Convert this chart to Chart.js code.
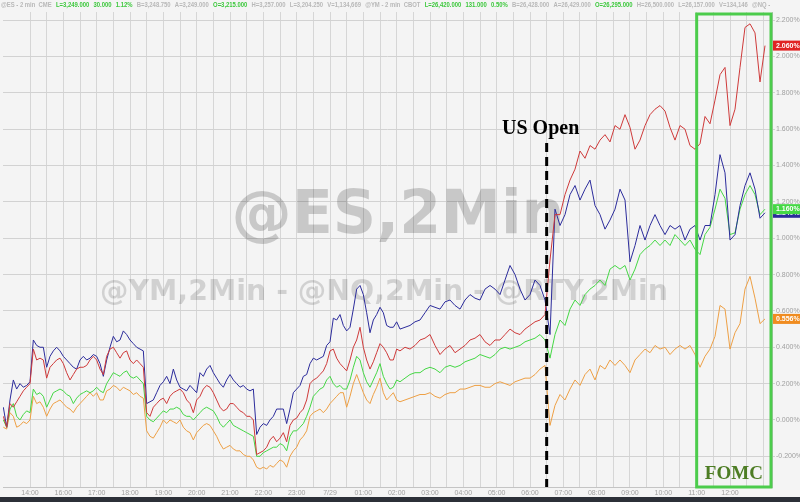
<!DOCTYPE html>
<html>
<head>
<meta charset="utf-8">
<script src="https://cdn.jsdelivr.net/npm/chart.js@4.4.1/dist/chart.umd.min.js"></script>
<style>
    html, body { margin: 0; padding: 0; background: #f4f4f4; }
    #wrap { position: relative; width: 800px; height: 502px; overflow: hidden; }
    #chart { position: absolute; left: 0; top: 0; }
    #bar { position: absolute; left: 0; top: 497px; width: 800px; height: 5px; background: #2c3038; }
</style>
</head>
<body>
<div id="wrap">
    <canvas id="chart" width="800" height="497"></canvas>
    <div id="bar"></div>
</div>
<script>
// hour labels on the x axis, one per hour starting at the 14:00 gridline
const hourLabels = ['14:00', '16:00', '17:00', '18:00', '19:00', '20:00', '21:00', '22:00', '23:00', '7/29',
    '01:00', '02:00', '03:00', '04:00', '05:00', '06:00', '07:00', '08:00', '09:00', '10:00', '11:00', '12:00'];

// percent gridlines on the right axis
const yTicks = [-0.2, 0, 0.2, 0.4, 0.6, 0.8, 1.0, 1.2, 1.4, 1.6, 1.8, 2.0, 2.2];

// event markers (hours from the 14:00 gridline)
const usOpenAt = 15.5;
const fomcFrom = 20.0;
const fomcTo = 22.23;

// sample times: overnight part sampled finer, session part coarser
const leftTimes = [];
for (let i = 0; i < 120; i++) leftTimes.push(+(-0.8 + i * 0.1).toFixed(2));
const rightTimes = [];
for (let j = 0; j < 73; j++) rightTimes.push(+(11.25 + j * 0.15).toFixed(2));
const times = leftTimes.concat(rightTimes);

// % change
const nqPct = [
    0.02, -0.04, 0.09, 0.07, 0.10, 0.13, 0.16, 0.18, 0.20, 0.39,
    0.33, 0.34, 0.33, 0.23, 0.29, 0.31, 0.33, 0.34, 0.31, 0.26,
    0.22, 0.25, 0.28, 0.29, 0.29, 0.30, 0.33, 0.35, 0.33, 0.28,
    0.25, 0.35, 0.39, 0.40, 0.37, 0.34, 0.37, 0.38, 0.33, 0.31,
    0.33, 0.31, 0.29, 0.04, 0.02, 0.07, 0.09, 0.11, 0.12, 0.09,
    0.13, 0.15, 0.16, 0.17, 0.15, 0.11, 0.09, 0.04, 0.11, 0.13,
    0.17, 0.19, 0.18, 0.15, 0.11, 0.07, 0.05, 0.06, 0.09, 0.09,
    0.07, 0.05, 0.04, 0.02, 0.02, 0.00, -0.19, -0.18, -0.17, -0.15,
    -0.11, -0.09, -0.12, -0.10, -0.07, -0.12, -0.03, 0.00, 0.01, 0.04,
    0.06, 0.11, 0.20, 0.22, 0.23, 0.25, 0.27, 0.31, 0.38, 0.39,
    0.34, 0.31, 0.29, 0.27, 0.33, 0.40, 0.44, 0.51, 0.40, 0.33,
    0.28, 0.32, 0.37, 0.42, 0.40, 0.37, 0.33, 0.33, 0.39, 0.38,
    0.40, 0.39, 0.41, 0.44, 0.45, 0.47, 0.41, 0.36, 0.39, 0.41,
    0.37, 0.39, 0.41, 0.44, 0.45, 0.47, 0.43, 0.41, 0.44, 0.44,
    0.47, 0.50, 0.48, 0.47, 0.50, 0.52, 0.54, 0.55, 0.58, 0.88,
    1.13, 1.13, 1.24, 1.32, 1.38, 1.48, 1.44, 1.51, 1.49, 1.54,
    1.57, 1.53, 1.62, 1.60, 1.68, 1.61, 1.49, 1.54, 1.62, 1.68,
    1.71, 1.73, 1.70, 1.61, 1.54, 1.62, 1.60, 1.51, 1.49, 1.52,
    1.67, 1.63, 1.76, 1.90, 1.94, 1.62, 1.71, 1.94, 2.16, 2.18,
    2.13, 1.86, 2.06
];

const rtyPct = [
    0.07, -0.04, 0.11, 0.22, 0.17, 0.20, 0.18, 0.19, 0.21, 0.44,
    0.41, 0.40, 0.40, 0.29, 0.35, 0.38, 0.40, 0.38, 0.35, 0.33,
    0.31, 0.29, 0.28, 0.33, 0.35, 0.33, 0.34, 0.36, 0.35, 0.31,
    0.24, 0.33, 0.40, 0.46, 0.43, 0.44, 0.49, 0.47, 0.44, 0.42,
    0.40, 0.39, 0.38, 0.09, 0.10, 0.11, 0.15, 0.19, 0.21, 0.24,
    0.20, 0.28, 0.22, 0.18, 0.17, 0.16, 0.19, 0.17, 0.15, 0.26,
    0.24, 0.28, 0.30, 0.26, 0.23, 0.20, 0.18, 0.22, 0.25, 0.22,
    0.20, 0.18, 0.19, 0.17, 0.16, 0.17, -0.08, -0.04, -0.02, -0.03,
    0.00, 0.02, 0.06, 0.06, 0.06, -0.02, 0.06, 0.15, 0.17, 0.19,
    0.24, 0.25, 0.31, 0.34, 0.33, 0.34, 0.35, 0.41, 0.43, 0.56,
    0.55, 0.58, 0.52, 0.49, 0.51, 0.61, 0.72, 0.74, 0.69, 0.59,
    0.48, 0.55, 0.58, 0.62, 0.59, 0.52, 0.51, 0.51, 0.54, 0.50,
    0.51, 0.52, 0.54, 0.55, 0.59, 0.63, 0.62, 0.61, 0.65, 0.66,
    0.63, 0.61, 0.66, 0.69, 0.67, 0.66, 0.72, 0.74, 0.72, 0.69,
    0.77, 0.85, 0.80, 0.72, 0.66, 0.69, 0.77, 0.74, 0.66, 0.47,
    1.16, 1.07, 1.13, 1.24, 1.29, 1.21, 1.27, 1.32, 1.18, 1.13,
    1.05, 1.10, 1.16, 1.27, 1.21, 0.87, 0.96, 1.07, 0.99, 1.07,
    1.13, 1.07, 1.02, 1.07, 1.05, 1.07, 0.99, 1.05, 1.07, 0.99,
    1.07, 1.07, 1.24, 1.46, 1.36, 0.99, 1.02, 1.18, 1.29, 1.36,
    1.27, 1.11, 1.14
];

const esPct = [
    0.00, -0.04, 0.06, 0.09, 0.02, 0.00, 0.03, 0.05, 0.04, 0.17,
    0.14, 0.15, 0.13, 0.07, 0.11, 0.15, 0.16, 0.17, 0.16, 0.14,
    0.13, 0.09, 0.12, 0.14, 0.15, 0.16, 0.15, 0.16, 0.18, 0.16,
    0.15, 0.20, 0.23, 0.26, 0.25, 0.24, 0.26, 0.27, 0.24, 0.23,
    0.24, 0.22, 0.20, 0.02, 0.00, -0.01, 0.01, 0.03, 0.05, 0.04,
    0.06, 0.06, 0.07, 0.06, 0.03, 0.02, 0.02, 0.00, 0.02, 0.04,
    0.06, 0.07, 0.06, 0.05, 0.02, -0.02, -0.04, -0.02, 0.00, -0.03,
    -0.04, -0.05, -0.06, -0.07, -0.08, -0.09, -0.20, -0.20, -0.18, -0.17,
    -0.16, -0.15, -0.15, -0.13, -0.14, -0.17, -0.09, -0.06, -0.06, -0.04,
    -0.02, 0.02, 0.07, 0.13, 0.15, 0.17, 0.18, 0.22, 0.24, 0.20,
    0.18, 0.19, 0.17, 0.17, 0.22, 0.29, 0.35, 0.33, 0.26, 0.21,
    0.18, 0.22, 0.26, 0.31, 0.24, 0.20, 0.17, 0.18, 0.22, 0.21,
    0.23, 0.25, 0.26, 0.26, 0.28, 0.29, 0.28, 0.26, 0.29, 0.30,
    0.29, 0.30, 0.32, 0.33, 0.34, 0.36, 0.35, 0.34, 0.36, 0.39,
    0.40, 0.39, 0.40, 0.41, 0.43, 0.44, 0.45, 0.47, 0.44, 0.34,
    0.47, 0.55, 0.52, 0.61, 0.66, 0.63, 0.69, 0.72, 0.74, 0.77,
    0.74, 0.83, 0.85, 0.83, 0.85, 0.77, 0.83, 0.91, 0.94, 0.96,
    0.99, 0.96, 0.99, 0.96, 1.02, 0.99, 0.96, 0.99, 0.94, 0.91,
    1.02, 1.06, 1.16, 1.27, 1.22, 1.02, 1.03, 1.16, 1.24, 1.29,
    1.24, 1.13, 1.16
];

const ymPct = [
    -0.04, -0.05, 0.04, 0.02, -0.04, -0.03, -0.01, -0.02, 0.00, 0.13,
    0.09, 0.10, 0.07, 0.02, 0.06, 0.09, 0.10, 0.11, 0.09, 0.07,
    0.06, 0.04, 0.07, 0.09, 0.11, 0.13, 0.15, 0.13, 0.15, 0.11,
    0.11, 0.16, 0.17, 0.19, 0.18, 0.16, 0.18, 0.17, 0.16, 0.14,
    0.15, 0.13, 0.12, -0.06, -0.09, -0.10, -0.07, -0.04, 0.00, -0.02,
    0.00, -0.01, -0.02, 0.00, -0.04, -0.06, -0.07, -0.11, -0.07, -0.05,
    -0.03, -0.02, -0.03, -0.06, -0.09, -0.13, -0.16, -0.15, -0.14, -0.16,
    -0.17, -0.17, -0.19, -0.20, -0.20, -0.22, -0.26, -0.27, -0.26, -0.27,
    -0.25, -0.26, -0.24, -0.22, -0.23, -0.26, -0.20, -0.17, -0.15, -0.11,
    -0.09, -0.06, 0.02, 0.04, 0.05, 0.06, 0.04, 0.06, 0.09, 0.11,
    0.13, 0.15, 0.15, 0.07, 0.13, 0.20, 0.25, 0.20, 0.15, 0.11,
    0.09, 0.14, 0.18, 0.23, 0.15, 0.11, 0.13, 0.15, 0.11, 0.10,
    0.11, 0.12, 0.13, 0.14, 0.14, 0.15, 0.13, 0.12, 0.14, 0.15,
    0.15, 0.17, 0.17, 0.18, 0.19, 0.19, 0.18, 0.18, 0.20, 0.21,
    0.20, 0.19, 0.21, 0.22, 0.23, 0.23, 0.25, 0.28, 0.30, -0.03,
    0.08, 0.14, 0.11, 0.17, 0.22, 0.19, 0.25, 0.28, 0.22, 0.30,
    0.28, 0.33, 0.30, 0.33, 0.30, 0.26, 0.33, 0.36, 0.39, 0.37,
    0.41, 0.39, 0.40, 0.36, 0.39, 0.41, 0.39, 0.41, 0.36, 0.29,
    0.35, 0.39, 0.46, 0.63, 0.61, 0.39, 0.48, 0.53, 0.72, 0.79,
    0.67, 0.53, 0.556
];

// quote line across the top
const headerParts = [
    ['@ES - 2 min  CME', false], ['L=3,249.000', true], ['30.000', true], ['1.12%', true],
    ['B=3,248.750', false], ['A=3,249.000', false], ['O=3,215.000', true], ['H=3,257.000', false],
    ['L=3,204.250', false], ['V=1,134,669', false], ['@YM - 2 min  CBOT', false], ['L=26,420.000', true],
    ['131.000', true], ['0.50%', true], ['B=26,428.000', false], ['A=26,429.000', false],
    ['O=26,295.000', true], ['H=26,500.000', false], ['L=26,157.000', false], ['V=134,146', false],
    ['@NQ - 2 min', false]
];

const colors = { nq: '#cf3a3a', rty: '#2c2c9c', es: '#45d845', ym: '#eea045' };

function toPoints(values) {
    return values.map((v, i) => ({ x: times[i], y: v }));
}

function drawScaledText(ctx, text, cx, baseline, targetWidth) {
    const w = ctx.measureText(text).width;
    ctx.save();
    ctx.translate(cx, baseline);
    ctx.scale(targetWidth / w, 1);
    ctx.fillText(text, 0, 0);
    ctx.restore();
}

const overlays = {
    id: 'overlays',
    beforeDraw(chart) {
        const ctx = chart.ctx;
        ctx.save();
        ctx.fillStyle = '#f4f4f4';
        ctx.fillRect(0, 0, chart.width, chart.height);
        ctx.restore();
    },
    beforeDatasetsDraw(chart) {
        // watermark sits under the lines
        const ctx = chart.ctx;
        ctx.save();
        ctx.textAlign = 'center';
        ctx.textBaseline = 'alphabetic';
        ctx.fillStyle = 'rgba(0,0,0,0.18)';
        ctx.font = 'bold 60px "DejaVu Sans", sans-serif';
        drawScaledText(ctx, '@ES,2Min', 398, 233, 333);
        ctx.fillStyle = 'rgba(0,0,0,0.14)';
        ctx.font = 'bold 28px "DejaVu Sans", sans-serif';
        drawScaledText(ctx, '@YM,2Min - @NQ,2Min - @RTY,2Min', 384, 300, 568);
        ctx.restore();
    },
    afterDraw(chart) {
        const ctx = chart.ctx;
        const area = chart.chartArea;
        const xs = chart.scales.x;
        const ys = chart.scales.y;

        // header quotes
        ctx.save();
        ctx.font = 'bold 7px "Liberation Sans", Arial, sans-serif';
        ctx.textBaseline = 'middle';
        const gap = 5;
        let total = 0;
        headerParts.slice(0, 20).forEach(p => { total += ctx.measureText(p[0]).width + gap; });
        const k = 751 / total;
        ctx.beginPath();
        ctx.rect(0, 0, 771, 11);
        ctx.clip();
        ctx.translate(1, 5);
        ctx.scale(k, 1);
        let hx = 0;
        headerParts.forEach(p => {
            ctx.fillStyle = p[1] ? '#3cc83c' : '#b8b8b8';
            ctx.fillText(p[0], hx, 0);
            hx += ctx.measureText(p[0]).width + gap;
        });
        ctx.restore();

        // US open marker
        const ox = xs.getPixelForValue(usOpenAt);
        ctx.save();
        ctx.strokeStyle = '#000';
        ctx.lineWidth = 3;
        ctx.setLineDash([9, 5]);
        ctx.beginPath();
        ctx.moveTo(ox, 143);
        ctx.lineTo(ox, area.bottom);
        ctx.stroke();
        ctx.setLineDash([]);
        ctx.fillStyle = '#000';
        ctx.font = 'bold 20px "Liberation Serif", "Times New Roman", serif';
        ctx.textAlign = 'center';
        ctx.textBaseline = 'alphabetic';
        ctx.fillText('US Open', ox - 6, 134);
        ctx.restore();

        // FOMC box
        const fx1 = xs.getPixelForValue(fomcFrom);
        const fx2 = xs.getPixelForValue(fomcTo);
        ctx.save();
        ctx.strokeStyle = '#4ccc4c';
        ctx.lineWidth = 3;
        ctx.strokeRect(fx1, area.top + 2, fx2 - fx1, area.bottom - area.top - 2);
        ctx.fillStyle = '#4d7d24';
        ctx.font = 'bold 19px "Liberation Serif", "Times New Roman", serif';
        ctx.textAlign = 'center';
        ctx.textBaseline = 'alphabetic';
        ctx.fillText('FOMC', (fx1 + fx2) / 2, 479);
        ctx.restore();

        // last value tags on the right axis
        const tags = [
            [rtyPct, colors.rty], [esPct, colors.es], [nqPct, '#e02424'], [ymPct, '#f08c20']
        ];
        ctx.save();
        ctx.font = 'bold 7px "Liberation Sans", Arial, sans-serif';
        ctx.textBaseline = 'middle';
        tags.forEach(t => {
            const v = t[0][t[0].length - 1];
            const y = ys.getPixelForValue(v);
            ctx.fillStyle = t[1];
            ctx.fillRect(area.right + 1, y - 5, 800 - area.right - 1, 10);
            ctx.fillStyle = '#fff';
            ctx.fillText(v.toFixed(3) + '%', area.right + 4, y);
        });
        ctx.restore();
    }
};

function makeSet(label, values, color) {
    return {
        label: label,
        data: toPoints(values),
        borderColor: color,
        borderWidth: 1,
        pointRadius: 0,
        tension: 0,
        fill: false
    };
}

new Chart(document.getElementById('chart'), {
    type: 'line',
    data: {
        datasets: [
            makeSet('@NQ', nqPct, colors.nq),
            makeSet('@RTY', rtyPct, colors.rty),
            makeSet('@ES', esPct, colors.es),
            makeSet('@YM', ymPct, colors.ym)
        ]
    },
    options: {
        responsive: false,
        animation: false,
        devicePixelRatio: 1,
        layout: { padding: { left: 3, top: 12, right: 0, bottom: 0 } },
        plugins: {
            legend: { display: false },
            tooltip: { enabled: false }
        },
        scales: {
            x: {
                type: 'linear',
                min: -0.81,
                max: 22.26,
                afterBuildTicks: scale => {
                    const t = [];
                    for (let i = 0; i <= 44; i++) t.push({ value: i / 2 });
                    scale.ticks = t;
                },
                afterFit: scale => { scale.height = 10; },
                grid: { color: '#d6d6d6', drawTicks: false },
                border: { color: '#c4c4c4' },
                ticks: {
                    autoSkip: false,
                    maxRotation: 0,
                    padding: 2,
                    color: '#a0a0a0',
                    font: { size: 7, family: '"Liberation Sans", Arial, sans-serif' },
                    callback: v => (Number.isInteger(v) && hourLabels[v]) ? hourLabels[v] : ''
                }
            },
            y: {
                position: 'right',
                min: -0.369,
                max: 2.245,
                afterBuildTicks: scale => { scale.ticks = yTicks.map(v => ({ value: v })); },
                afterFit: scale => { scale.width = 28; },
                grid: { color: '#d2d2d2', tickLength: 3 },
                border: { color: '#c4c4c4' },
                ticks: {
                    padding: 1,
                    color: '#a0a0a0',
                    font: { size: 7, family: '"Liberation Sans", Arial, sans-serif' },
                    callback: v => v.toFixed(3) + '%'
                }
            }
        }
    },
    plugins: [overlays]
});
</script>
</body>
</html>
